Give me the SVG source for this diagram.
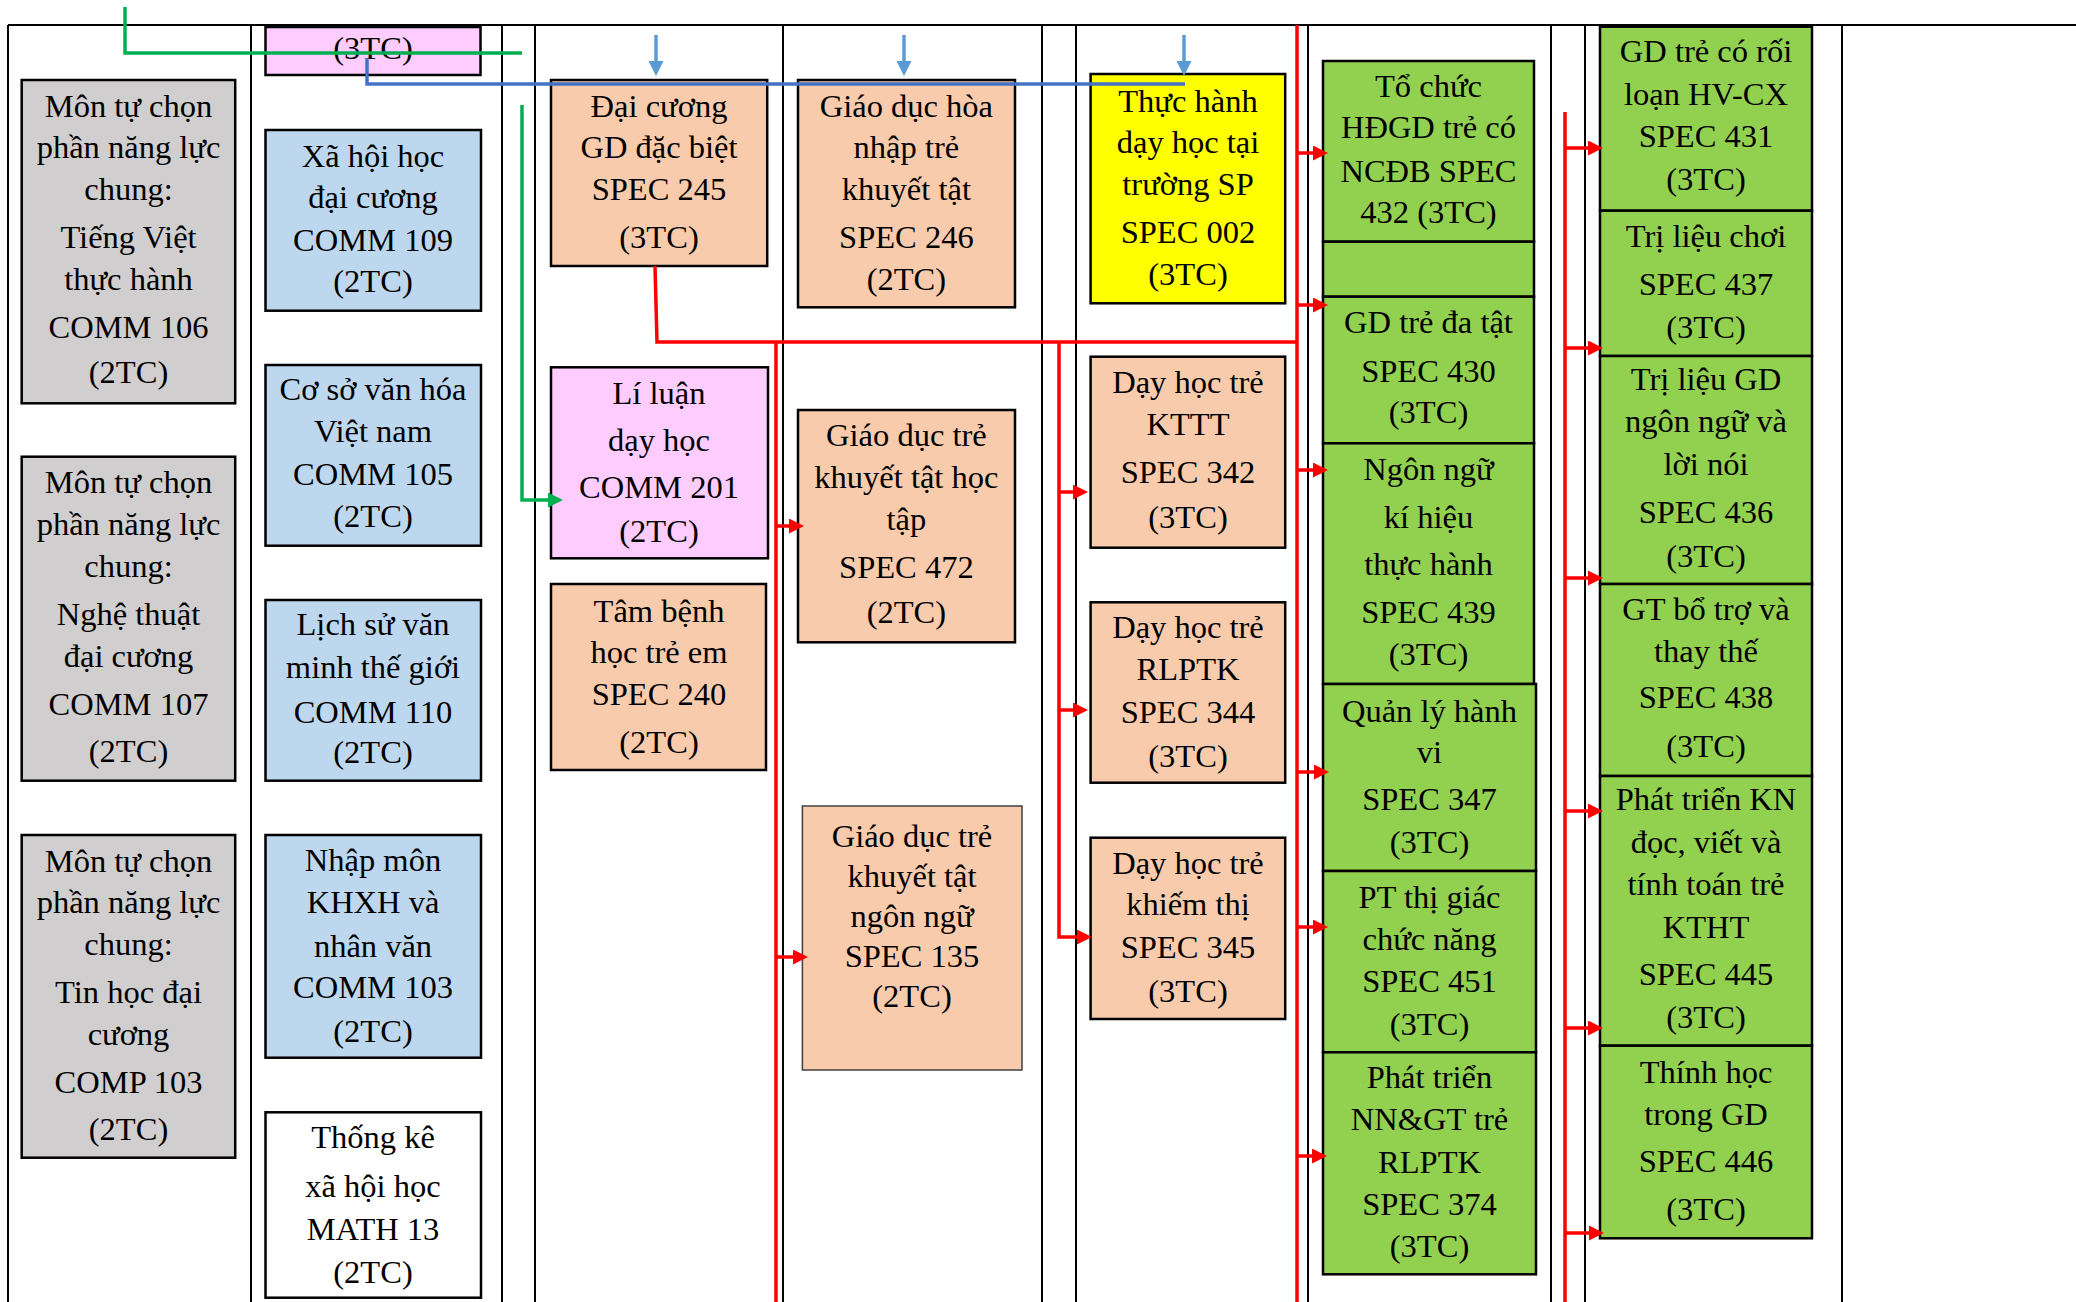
<svg xmlns="http://www.w3.org/2000/svg" width="2076" height="1302" viewBox="0 0 2076 1302">
<style>
.t{font-family:"Liberation Serif","Times New Roman",serif;font-size:32.5px;text-anchor:middle;fill:#000}
.b{stroke:#000;stroke-width:2.5}
.gray{fill:#D0CECE}.blue{fill:#BDD7EE}.pink{fill:#FFCCFF}.peach{fill:#F8CBAD}.yel{fill:#FFFF00}.grn{fill:#92D050}.wht{fill:#FFFFFF}
.red{stroke:#FF0000;stroke-width:3.5;fill:none}
.gl{stroke:#00B050;stroke-width:3.5;fill:none}
</style>
<defs>
<marker id="ar" viewBox="0 0 15 15" refX="3" refY="7.5" markerWidth="15" markerHeight="15" markerUnits="userSpaceOnUse" orient="auto"><path d="M0,0 L15,7.5 L0,15 z" fill="#FF0000"/></marker>
<marker id="ag" viewBox="0 0 15 15" refX="3" refY="7.5" markerWidth="15" markerHeight="15" markerUnits="userSpaceOnUse" orient="auto"><path d="M0,0 L15,7.5 L0,15 z" fill="#00B050"/></marker>
<marker id="ab" viewBox="0 0 15 15" refX="3" refY="7.5" markerWidth="15" markerHeight="15" markerUnits="userSpaceOnUse" orient="auto"><path d="M0,0 L15,7.5 L0,15 z" fill="#5B9BD5"/></marker>
</defs>
<rect width="2076" height="1302" fill="#fff"/>
<g id="grid" stroke="#000" stroke-width="2">
<line x1="8" y1="25" x2="2076" y2="25"/>
<line x1="8" y1="25" x2="8" y2="1302"/>
<line x1="251" y1="25" x2="251" y2="1302"/>
<line x1="502" y1="25" x2="502" y2="1302"/>
<line x1="535" y1="25" x2="535" y2="1302"/>
<line x1="783" y1="25" x2="783" y2="1302"/>
<line x1="1042" y1="25" x2="1042" y2="1302"/>
<line x1="1076" y1="25" x2="1076" y2="1302"/>
<line x1="1308" y1="25" x2="1308" y2="1302"/>
<line x1="1551" y1="25" x2="1551" y2="1302"/>
<line x1="1585" y1="25" x2="1585" y2="1302"/>
<line x1="1842" y1="25" x2="1842" y2="1302"/>
</g>

<g id="n_top3tc"><rect class="b pink" x="265.5" y="27" width="215" height="48"/><text class="t"><tspan x="373" y="58.5">(3TC)</tspan></text></g>

<g id="n_comm106"><rect class="b gray" x="21.7" y="80" width="213.5" height="323.3"/><text class="t"><tspan x="128.5" y="116.7">Môn tự chọn</tspan><tspan x="128.5" y="158.3">phần năng lực</tspan><tspan x="128.5" y="200">chung:</tspan><tspan x="128.5" y="248.3">Tiếng Việt</tspan><tspan x="128.5" y="290">thực hành</tspan><tspan x="128.5" y="338.3">COMM 106</tspan><tspan x="128.5" y="383.3">(2TC)</tspan></text></g>
<g id="n_comm107"><rect class="b gray" x="21.7" y="456.7" width="213.5" height="324"/><text class="t"><tspan x="128.5" y="493.3">Môn tự chọn</tspan><tspan x="128.5" y="535">phần năng lực</tspan><tspan x="128.5" y="576.7">chung:</tspan><tspan x="128.5" y="625">Nghệ thuật</tspan><tspan x="128.5" y="666.7">đại cương</tspan><tspan x="128.5" y="715">COMM 107</tspan><tspan x="128.5" y="761.7">(2TC)</tspan></text></g>
<g id="n_comp103"><rect class="b gray" x="21.7" y="835" width="213.5" height="322.7"/><text class="t"><tspan x="128.5" y="871.6">Môn tự chọn</tspan><tspan x="128.5" y="913.3">phần năng lực</tspan><tspan x="128.5" y="955">chung:</tspan><tspan x="128.5" y="1003.3">Tin học đại</tspan><tspan x="128.5" y="1045">cương</tspan><tspan x="128.5" y="1093.3">COMP 103</tspan><tspan x="128.5" y="1140">(2TC)</tspan></text></g>

<g id="n_comm109"><rect class="b blue" x="265.5" y="130" width="215.5" height="180.7"/><text class="t"><tspan x="373" y="166.7">Xã hội học</tspan><tspan x="373" y="208.3">đại cương</tspan><tspan x="373" y="250.7">COMM 109</tspan><tspan x="373" y="291.7">(2TC)</tspan></text></g>
<g id="n_comm105"><rect class="b blue" x="265.5" y="365" width="215.5" height="180.7"/><text class="t"><tspan x="373" y="400">Cơ sở văn hóa</tspan><tspan x="373" y="442">Việt nam</tspan><tspan x="373" y="485">COMM 105</tspan><tspan x="373" y="527">(2TC)</tspan></text></g>
<g id="n_comm110"><rect class="b blue" x="265.5" y="600" width="215.5" height="180.7"/><text class="t"><tspan x="373" y="635">Lịch sử văn</tspan><tspan x="373" y="678.3">minh thế giới</tspan><tspan x="373" y="723.3">COMM 110</tspan><tspan x="373" y="763.3">(2TC)</tspan></text></g>
<g id="n_comm103"><rect class="b blue" x="265.5" y="835" width="215.5" height="222.7"/><text class="t"><tspan x="373" y="871">Nhập môn</tspan><tspan x="373" y="913.3">KHXH và</tspan><tspan x="373" y="956.7">nhân văn</tspan><tspan x="373" y="998.3">COMM 103</tspan><tspan x="373" y="1041.7">(2TC)</tspan></text></g>
<g id="n_math13"><rect class="b wht" x="265.5" y="1112.3" width="215.5" height="185.4"/><text class="t"><tspan x="373" y="1148.3">Thống kê</tspan><tspan x="373" y="1196.7">xã hội học</tspan><tspan x="373" y="1240">MATH 13</tspan><tspan x="373" y="1283.3">(2TC)</tspan></text></g>

<g id="n_spec245"><rect class="b peach" x="551" y="80" width="216.2" height="186"/><text class="t"><tspan x="659" y="116.7">Đại cương</tspan><tspan x="659" y="158.3">GD đặc biệt</tspan><tspan x="659" y="200">SPEC 245</tspan><tspan x="659" y="248.3">(3TC)</tspan></text></g>
<g id="n_comm201"><rect class="b pink" x="551" y="367.3" width="217" height="191"/><text class="t"><tspan x="659" y="404">Lí luận</tspan><tspan x="659" y="451">dạy học</tspan><tspan x="659" y="498.3">COMM 201</tspan><tspan x="659" y="541.7">(2TC)</tspan></text></g>
<g id="n_spec240"><rect class="b peach" x="551" y="584" width="215" height="186"/><text class="t"><tspan x="659" y="621.7">Tâm bệnh</tspan><tspan x="659" y="663.3">học trẻ em</tspan><tspan x="659" y="705">SPEC 240</tspan><tspan x="659" y="753.3">(2TC)</tspan></text></g>

<g id="n_spec246"><rect class="b peach" x="798" y="80" width="217" height="227.3"/><text class="t"><tspan x="906.4" y="116.7">Giáo dục hòa</tspan><tspan x="906.4" y="158.3">nhập trẻ</tspan><tspan x="906.4" y="200">khuyết tật</tspan><tspan x="906.4" y="248.3">SPEC 246</tspan><tspan x="906.4" y="290">(2TC)</tspan></text></g>
<g id="n_spec472"><rect class="b peach" x="798" y="410" width="217" height="232.3"/><text class="t"><tspan x="906.4" y="446">Giáo dục trẻ</tspan><tspan x="906.4" y="488.3">khuyết tật học</tspan><tspan x="906.4" y="530">tập</tspan><tspan x="906.4" y="578.3">SPEC 472</tspan><tspan x="906.4" y="623.3">(2TC)</tspan></text></g>
<g id="n_spec135"><rect class="peach" x="802.4" y="806" width="219.6" height="264" stroke="#404040" stroke-width="1.5"/><text class="t"><tspan x="912" y="846.7">Giáo dục trẻ</tspan><tspan x="912" y="886.7">khuyết tật</tspan><tspan x="912" y="926.7">ngôn ngữ</tspan><tspan x="912" y="966.7">SPEC 135</tspan><tspan x="912" y="1006.7">(2TC)</tspan></text></g>

<g id="n_spec002"><rect class="b yel" x="1090.6" y="74" width="194.6" height="229.3"/><text class="t"><tspan x="1188" y="111.7">Thực hành</tspan><tspan x="1188" y="153.3">dạy học tại</tspan><tspan x="1188" y="195">trường SP</tspan><tspan x="1188" y="243.3">SPEC 002</tspan><tspan x="1188" y="285">(3TC)</tspan></text></g>
<g id="n_spec342"><rect class="b peach" x="1090.6" y="356.7" width="194.6" height="191"/><text class="t"><tspan x="1188" y="393.3">Dạy học trẻ</tspan><tspan x="1188" y="435">KTTT</tspan><tspan x="1188" y="483.3">SPEC 342</tspan><tspan x="1188" y="528.3">(3TC)</tspan></text></g>
<g id="n_spec344"><rect class="b peach" x="1090.6" y="602.3" width="194.6" height="180.4"/><text class="t"><tspan x="1188" y="638.3">Dạy học trẻ</tspan><tspan x="1188" y="680">RLPTK</tspan><tspan x="1188" y="723.3">SPEC 344</tspan><tspan x="1188" y="766.7">(3TC)</tspan></text></g>
<g id="n_spec345"><rect class="b peach" x="1090.6" y="837.7" width="194.6" height="181.3"/><text class="t"><tspan x="1188" y="874">Dạy học trẻ</tspan><tspan x="1188" y="915">khiếm thị</tspan><tspan x="1188" y="958.3">SPEC 345</tspan><tspan x="1188" y="1001.7">(3TC)</tspan></text></g>

<g id="n_spec432"><rect class="b grn" x="1323" y="61" width="211" height="180.7"/><text class="t"><tspan x="1428.5" y="96.7">Tổ chức</tspan><tspan x="1428.5" y="138.3">HĐGD trẻ có</tspan><tspan x="1428.5" y="181.7">NCĐB SPEC</tspan><tspan x="1428.5" y="223.3">432 (3TC)</tspan></text></g>
<g id="n_empty"><rect class="b grn" x="1323" y="241.7" width="211" height="55"/></g>
<g id="n_spec430"><rect class="b grn" x="1323" y="296.7" width="211" height="146.6"/><text class="t"><tspan x="1428.5" y="333.3">GD trẻ đa tật</tspan><tspan x="1428.5" y="381.7">SPEC 430</tspan><tspan x="1428.5" y="423.3">(3TC)</tspan></text></g>
<g id="n_spec439"><rect class="b grn" x="1323" y="443.3" width="211" height="240.7"/><text class="t"><tspan x="1428.5" y="480">Ngôn ngữ</tspan><tspan x="1428.5" y="528.3">kí hiệu</tspan><tspan x="1428.5" y="575">thực hành</tspan><tspan x="1428.5" y="623.3">SPEC 439</tspan><tspan x="1428.5" y="665">(3TC)</tspan></text></g>
<g id="n_spec347"><rect class="b grn" x="1323" y="684" width="213" height="187"/><text class="t"><tspan x="1429.5" y="721.7">Quản lý hành</tspan><tspan x="1429.5" y="763.3">vi</tspan><tspan x="1429.5" y="810">SPEC 347</tspan><tspan x="1429.5" y="853.3">(3TC)</tspan></text></g>
<g id="n_spec451"><rect class="b grn" x="1323" y="871" width="213" height="181.3"/><text class="t"><tspan x="1429.5" y="908.3">PT thị giác</tspan><tspan x="1429.5" y="950">chức năng</tspan><tspan x="1429.5" y="991.7">SPEC 451</tspan><tspan x="1429.5" y="1035">(3TC)</tspan></text></g>
<g id="n_spec374"><rect class="b grn" x="1323" y="1052.3" width="213" height="222"/><text class="t"><tspan x="1429.5" y="1088.3">Phát triển</tspan><tspan x="1429.5" y="1130">NN&amp;GT trẻ</tspan><tspan x="1429.5" y="1173.3">RLPTK</tspan><tspan x="1429.5" y="1215">SPEC 374</tspan><tspan x="1429.5" y="1256.7">(3TC)</tspan></text></g>

<g id="n_spec431"><rect class="b grn" x="1600" y="26.7" width="212" height="184"/><text class="t"><tspan x="1706" y="61.7">GD trẻ có rối</tspan><tspan x="1706" y="105">loạn HV-CX</tspan><tspan x="1706" y="146.7">SPEC 431</tspan><tspan x="1706" y="190">(3TC)</tspan></text></g>
<g id="n_spec437"><rect class="b grn" x="1600" y="210.7" width="212" height="145.3"/><text class="t"><tspan x="1706" y="246.7">Trị liệu chơi</tspan><tspan x="1706" y="295">SPEC 437</tspan><tspan x="1706" y="338.3">(3TC)</tspan></text></g>
<g id="n_spec436"><rect class="b grn" x="1600" y="356" width="212" height="228"/><text class="t"><tspan x="1706" y="390">Trị liệu GD</tspan><tspan x="1706" y="431.7">ngôn ngữ và</tspan><tspan x="1706" y="475">lời nói</tspan><tspan x="1706" y="523.3">SPEC 436</tspan><tspan x="1706" y="566.7">(3TC)</tspan></text></g>
<g id="n_spec438"><rect class="b grn" x="1600" y="584" width="212" height="192"/><text class="t"><tspan x="1706" y="620">GT bổ trợ và</tspan><tspan x="1706" y="661.7">thay thế</tspan><tspan x="1706" y="708.3">SPEC 438</tspan><tspan x="1706" y="756.7">(3TC)</tspan></text></g>
<g id="n_spec445"><rect class="b grn" x="1600" y="776" width="212" height="269.7"/><text class="t"><tspan x="1706" y="810">Phát triển KN</tspan><tspan x="1706" y="853.3">đọc, viết và</tspan><tspan x="1706" y="895">tính toán trẻ</tspan><tspan x="1706" y="938.3">KTHT</tspan><tspan x="1706" y="985">SPEC 445</tspan><tspan x="1706" y="1028.3">(3TC)</tspan></text></g>
<g id="n_spec446"><rect class="b grn" x="1600" y="1045.7" width="212" height="192.6"/><text class="t"><tspan x="1706" y="1083.3">Thính học</tspan><tspan x="1706" y="1125">trong GD</tspan><tspan x="1706" y="1171.7">SPEC 446</tspan><tspan x="1706" y="1220">(3TC)</tspan></text></g>

<g id="connectors">
<path class="gl" d="M125,7 V53 H522"/>
<path class="gl" d="M522,105 V500 H551" marker-end="url(#ag)"/>
<path d="M367,58 V84 H1185" stroke="#4472C4" stroke-width="3.5" fill="none"/>
<path d="M656,35 V64" stroke="#5B9BD5" stroke-width="3.5" marker-end="url(#ab)"/>
<path d="M904,35 V64" stroke="#5B9BD5" stroke-width="3.5" marker-end="url(#ab)"/>
<path d="M1184,35 V64" stroke="#5B9BD5" stroke-width="3.5" marker-end="url(#ab)"/>
<path class="red" d="M655,266 L657,342 H1297"/>
<path class="red" d="M776,342 V1302"/>
<path class="red" d="M1059,342 V937 H1080" marker-end="url(#ar)"/>
<path class="red" d="M1297,25 V1302"/>
<path class="red" d="M1565,112 V1302"/>
<path class="red" d="M776,526 H792" marker-end="url(#ar)"/>
<path class="red" d="M776,957 H796" marker-end="url(#ar)"/>
<path class="red" d="M1059,492 H1076" marker-end="url(#ar)"/>
<path class="red" d="M1059,710 H1076" marker-end="url(#ar)"/>
<path class="red" d="M1297,153 H1316" marker-end="url(#ar)"/>
<path class="red" d="M1297,305 H1316" marker-end="url(#ar)"/>
<path class="red" d="M1297,470 H1316" marker-end="url(#ar)"/>
<path class="red" d="M1297,772 H1317" marker-end="url(#ar)"/>
<path class="red" d="M1297,927 H1316" marker-end="url(#ar)"/>
<path class="red" d="M1297,1156 H1315" marker-end="url(#ar)"/>
<path class="red" d="M1565,148 H1591" marker-end="url(#ar)"/>
<path class="red" d="M1565,348 H1591" marker-end="url(#ar)"/>
<path class="red" d="M1565,578 H1591" marker-end="url(#ar)"/>
<path class="red" d="M1565,811 H1591" marker-end="url(#ar)"/>
<path class="red" d="M1565,1028 H1591" marker-end="url(#ar)"/>
<path class="red" d="M1565,1233 H1592" marker-end="url(#ar)"/>
</g>
</svg>
